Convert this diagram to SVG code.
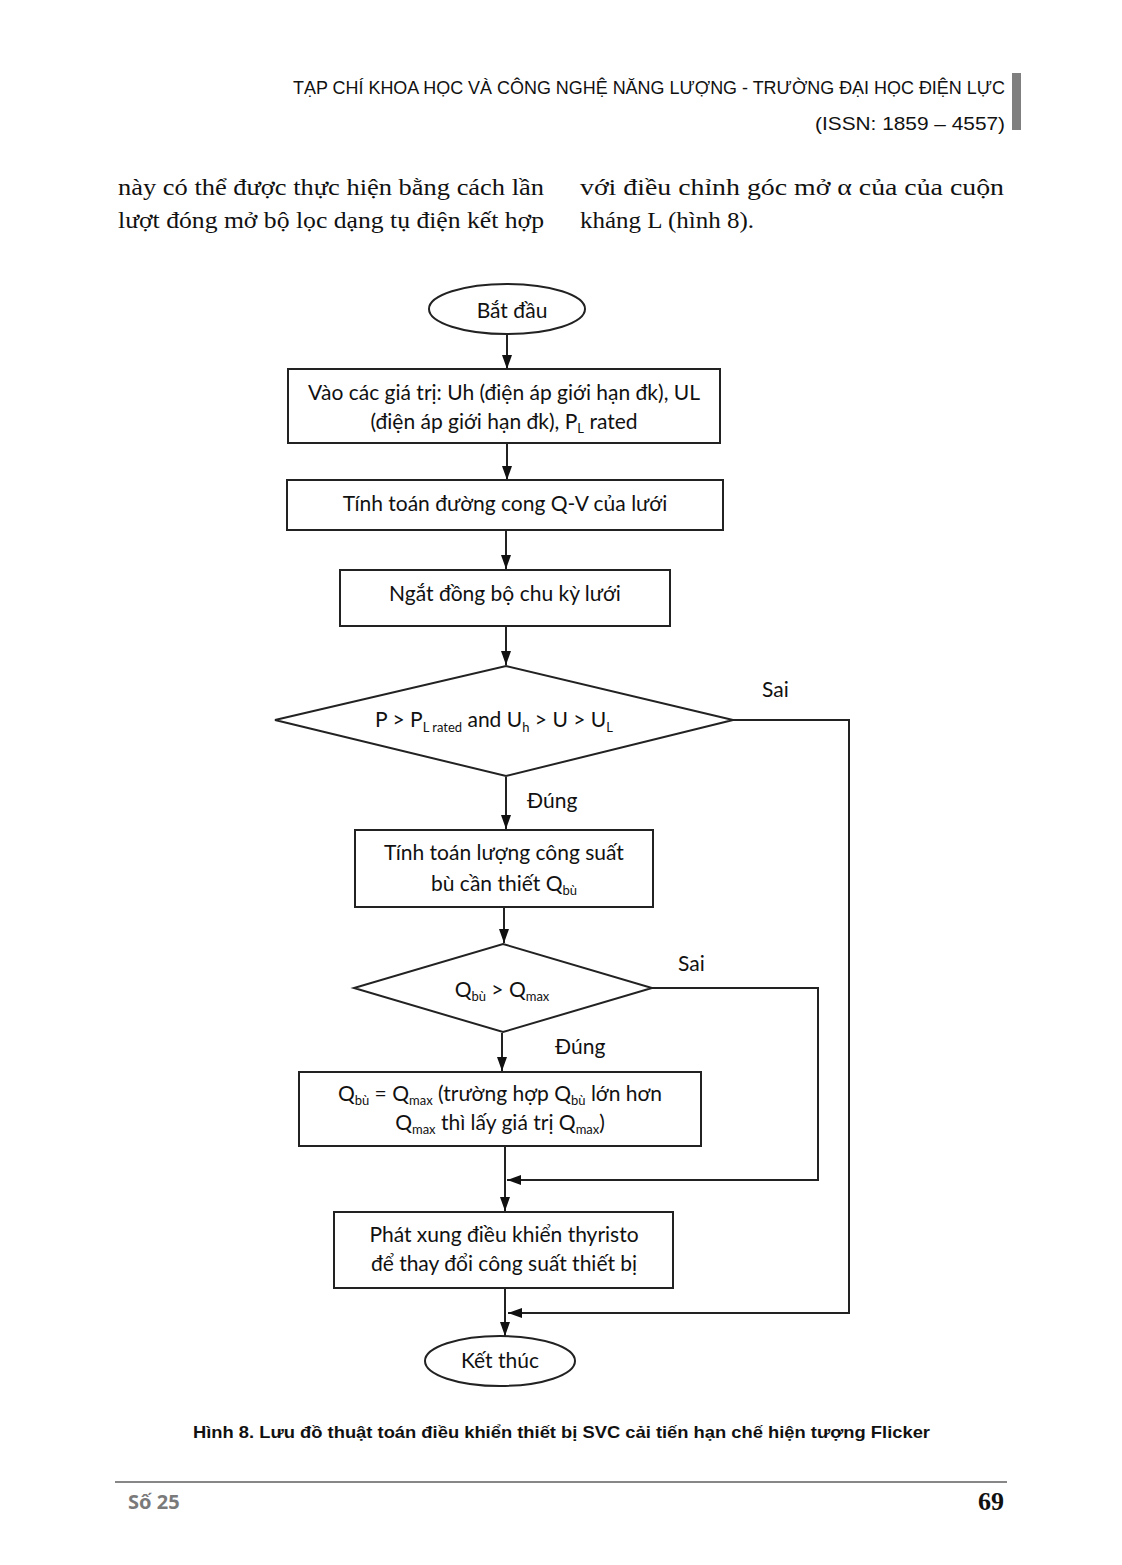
<svg xmlns="http://www.w3.org/2000/svg" width="1122" height="1565" viewBox="0 0 1122 1565">
<style>
.hd{font-family:"Liberation Sans",Arial,sans-serif;font-size:19px;fill:#111}
.body{font-family:"Liberation Serif","Times New Roman",serif;font-size:24px;fill:#111}
.fc{font-family:Lato,"Liberation Sans",sans-serif;font-size:21px;fill:#111}
.sub{font-size:13px}
.shape{fill:#fff;stroke:#222;stroke-width:2}
.ln{fill:none;stroke:#222;stroke-width:2}
.cap{font-family:"Liberation Sans",Arial,sans-serif;font-size:17px;font-weight:bold;fill:#111}
</style>
<defs>
<marker id="ah" viewBox="0 0 14 10" refX="14" refY="5" markerWidth="14" markerHeight="10" markerUnits="userSpaceOnUse" orient="auto">
<path d="M0,0 L14,5 L0,10 z" fill="#111"/>
</marker>
</defs>
<rect width="1122" height="1565" fill="#fff"/>
<g id="header">
<text class="hd" x="1005" y="94" text-anchor="end" textLength="712" lengthAdjust="spacingAndGlyphs">TẠP CHÍ KHOA HỌC VÀ CÔNG NGHỆ NĂNG LƯỢNG - TRƯỜNG ĐẠI HỌC ĐIỆN LỰC</text>
<text class="hd" x="1005" y="130" text-anchor="end" textLength="190" lengthAdjust="spacingAndGlyphs">(ISSN: 1859 – 4557)</text>
<rect x="1012" y="73" width="9" height="57" fill="#7f7f7f"/>
</g>
<g id="bodytext">
<text class="body" x="118" y="195" textLength="426" lengthAdjust="spacingAndGlyphs">này có thể được thực hiện bằng cách lần</text>
<text class="body" x="118" y="228" textLength="426" lengthAdjust="spacingAndGlyphs">lượt đóng mở bộ lọc dạng tụ điện kết hợp</text>
<text class="body" x="580" y="195" textLength="424" lengthAdjust="spacingAndGlyphs">với điều chỉnh góc mở α của của cuộn</text>
<text class="body" x="580" y="228" textLength="174" lengthAdjust="spacingAndGlyphs">kháng L (hình 8).</text>
</g>
<g id="connectors">
<line class="ln" x1="507" y1="334" x2="507" y2="369" marker-end="url(#ah)"/>
<line class="ln" x1="507" y1="443" x2="507" y2="480" marker-end="url(#ah)"/>
<line class="ln" x1="506" y1="531" x2="506" y2="569" marker-end="url(#ah)"/>
<line class="ln" x1="506" y1="627" x2="506" y2="665" marker-end="url(#ah)"/>
<line class="ln" x1="506" y1="777" x2="506" y2="829" marker-end="url(#ah)"/>
<line class="ln" x1="504" y1="907" x2="504" y2="943" marker-end="url(#ah)"/>
<line class="ln" x1="502" y1="1033" x2="502" y2="1071" marker-end="url(#ah)"/>
<line class="ln" x1="505" y1="1146" x2="505" y2="1211" marker-end="url(#ah)"/>
<line class="ln" x1="505" y1="1288" x2="505" y2="1336" marker-end="url(#ah)"/>
<polyline class="ln" points="733,720 849,720 849,1313 508,1313" marker-end="url(#ah)"/>
<polyline class="ln" points="652,988 818,988 818,1180 507,1180" marker-end="url(#ah)"/>
<text class="fc" x="762" y="697">Sai</text>
<text class="fc" x="527" y="808">Đúng</text>
<text class="fc" x="678" y="971">Sai</text>
<text class="fc" x="555" y="1054">Đúng</text>
</g>
<g id="start">
<ellipse class="shape" cx="507" cy="309" rx="78" ry="25"/>
<text class="fc" x="512" y="318" text-anchor="middle">Bắt đầu</text>
</g>
<g id="input">
<rect class="shape" x="288" y="369" width="432" height="74"/>
<text class="fc" x="504" y="400" text-anchor="middle">Vào các giá trị: Uh (điện áp giới hạn đk), UL</text>
<text class="fc" x="504" y="429" text-anchor="middle">(điện áp giới hạn đk), P<tspan class="sub" dy="4">L</tspan><tspan dy="-4"> rated</tspan></text>
</g>
<g id="qv">
<rect class="shape" x="287" y="480" width="436" height="50"/>
<text class="fc" x="505" y="511" text-anchor="middle">Tính toán đường cong Q-V của lưới</text>
</g>
<g id="sync">
<rect class="shape" x="340" y="570" width="330" height="56"/>
<text class="fc" x="505" y="601" text-anchor="middle">Ngắt đồng bộ chu kỳ lưới</text>
</g>
<g id="cond1">
<polygon class="shape" points="506,666 733,720 506,776 275,720"/>
<text class="fc" x="494" y="727" text-anchor="middle">P &gt; P<tspan class="sub" dy="5">L rated</tspan><tspan dy="-5"> and U</tspan><tspan class="sub" dy="5">h</tspan><tspan dy="-5"> &gt; U &gt; U</tspan><tspan class="sub" dy="5">L</tspan></text>
</g>
<g id="calcq">
<rect class="shape" x="355" y="830" width="298" height="77"/>
<text class="fc" x="504" y="860" text-anchor="middle">Tính toán lượng công suất</text>
<text class="fc" x="504" y="891" text-anchor="middle">bù cần thiết Q<tspan class="sub" dy="4">bù</tspan></text>
</g>
<g id="cond2">
<polygon class="shape" points="503,944 652,988 503,1032 354,988"/>
<text class="fc" x="502" y="997" text-anchor="middle">Q<tspan class="sub" dy="4">bù</tspan><tspan dy="-4"> &gt; Q</tspan><tspan class="sub" dy="4">max</tspan></text>
</g>
<g id="setq">
<rect class="shape" x="299" y="1072" width="402" height="74"/>
<text class="fc" x="500" y="1101" text-anchor="middle">Q<tspan class="sub" dy="4">bù</tspan><tspan dy="-4"> = Q</tspan><tspan class="sub" dy="4">max</tspan><tspan dy="-4"> (trường hợp Q</tspan><tspan class="sub" dy="4">bù</tspan><tspan dy="-4"> lớn hơn</tspan></text>
<text class="fc" x="500" y="1130" text-anchor="middle">Q<tspan class="sub" dy="4">max</tspan><tspan dy="-4"> thì lấy giá trị Q</tspan><tspan class="sub" dy="4">max</tspan><tspan dy="-4">)</tspan></text>
</g>
<g id="pulse">
<rect class="shape" x="334" y="1212" width="339" height="76"/>
<text class="fc" x="504" y="1242" text-anchor="middle">Phát xung điều khiển thyristo</text>
<text class="fc" x="504" y="1271" text-anchor="middle">để thay đổi công suất thiết bị</text>
</g>
<g id="end">
<ellipse class="shape" cx="500" cy="1361" rx="75" ry="25"/>
<text class="fc" x="500" y="1368" text-anchor="middle">Kết thúc</text>
</g>
<g id="caption">
<text class="cap" x="193" y="1438" textLength="737" lengthAdjust="spacingAndGlyphs">Hình 8. Lưu đồ thuật toán điều khiển thiết bị SVC cải tiến hạn chế hiện tượng Flicker</text>
</g>
<g id="footer">
<line x1="115" y1="1482" x2="1007" y2="1482" stroke="#111" stroke-width="1.2"/>
<text x="128" y="1509" font-family="'Noto Sans','Liberation Sans',sans-serif" font-size="20" font-weight="bold" fill="#7a7a7a">Số 25</text>
<text x="1004" y="1510" text-anchor="end" font-family="'Liberation Serif',serif" font-size="26" font-weight="bold" fill="#111">69</text>
</g>
</svg>
